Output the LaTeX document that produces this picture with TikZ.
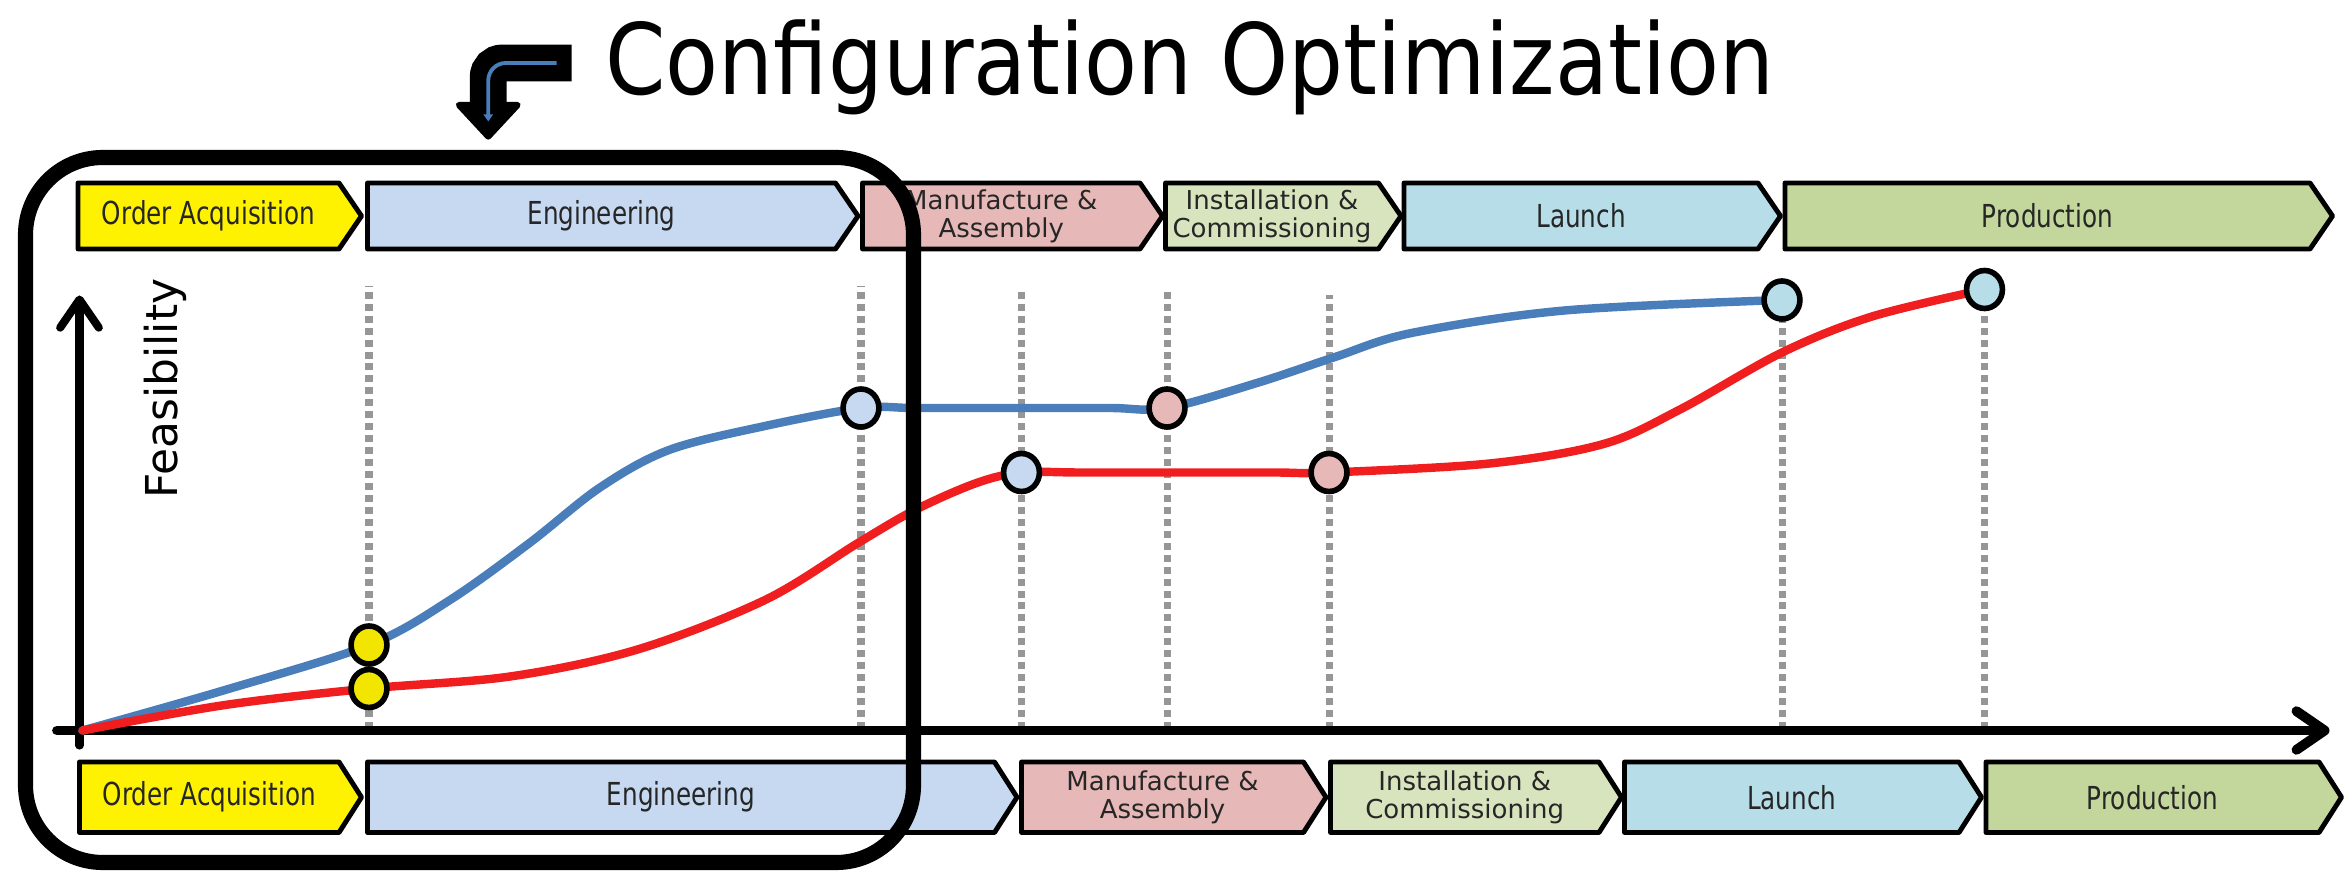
\documentclass[tikz,border=0pt]{standalone}
\usepackage{fontspec}
\newfontfamily\titlefont[FakeStretch=0.88]{DejaVu Sans}
\newfontfamily\phasefont[FakeStretch=0.78]{DejaVu Sans}
\newfontfamily\axisfont{DejaVu Sans}
\usepackage{tikz}
\usetikzlibrary{arrows.meta,shapes.geometric}

\definecolor{oacq}{RGB}{255,242,0}
\definecolor{engi}{RGB}{198,217,241}
\definecolor{manu}{RGB}{230,185,184}
\definecolor{inst}{RGB}{215,228,189}
\definecolor{laun}{RGB}{183,222,232}
\definecolor{prod}{RGB}{195,214,155}
\definecolor{curveblue}{RGB}{74,126,187}
\definecolor{curvered}{RGB}{240,30,30}
\definecolor{markyellow}{RGB}{242,230,0}
\definecolor{gridgray}{RGB}{150,150,150}

\tikzset{
  phase/.style={draw=black, line width=1.4pt, line join=round},
  phasetext/.style={font=\phasefont\fontsize{9}{9}\selectfont, text=black!85, inner sep=0pt},
  phasetwo/.style={font=\axisfont\fontsize{7.4}{8}\selectfont, align=center, text=black!85, inner sep=0pt},
  milestone/.style={gridgray, line width=2pt, dash pattern=on 2pt off 1.4pt},
  feas/.style={line width=2.4pt, line cap=round, line join=round},
  dot/.style={ellipse, draw=black, line width=1.6pt, minimum width=10.2pt, minimum height=10.8pt, inner sep=0pt},
  axisline/.style={line cap=round, -{Straight Barb[length=8pt,width=11pt,round]}},
}

\begin{document}
\begin{tikzpicture}[x=0.15mm,y=0.15mm]
      \useasboundingbox (0,0) rectangle (1568,585);

      % phase bars above the chart
      \foreach \a/\b/\c/\s/\t [count=\i] in {
          52/241/oacq/phasetext/Order Acquisition,
          245/572/engi/phasetext/Engineering,
          575/775/manu/phasetwo/Manufacture \&\\Assembly,
          777/934/inst/phasetwo/Installation \&\\Commissioning,
          936/1187/laun/phasetext/Launch,
          1190/1555/prod/phasetext/Production}{
        \draw[phase, fill=\c] (\a,463) -- (\b-15,463) -- (\b,441) -- (\b-15,419) -- (\a,419) -- cycle;
        \node[\s] (top\i) at ({(\a+\b-15)/2},441) {\t};
      }

      % phase bars below the chart
      \foreach \a/\b/\c/\s/\t [count=\i] in {
          53/241/oacq/phasetext/Order Acquisition,
          245/678/engi/phasetext/Engineering,
          681/884/manu/phasetwo/Manufacture \&\\Assembly,
          887/1081/inst/phasetwo/Installation \&\\Commissioning,
          1083/1321/laun/phasetext/Launch,
          1324/1561/prod/phasetext/Production}{
        \draw[phase, fill=\c] (\a,77) -- (\b-15,77) -- (\b,53.5) -- (\b-15,30) -- (\a,30) -- cycle;
        \node[\s] (bot\i) at ({(\a+\b-15)/2},53.5) {\t};
      }

      % milestones
      \foreach \x/\h in {246/394, 574/394, 681/393, 778/390, 886/388, 1188/385, 1323/392}
        \draw[milestone] (\x,99) -- (\x,\h);

      % axes
      \draw[axisline, line width=2.8pt] (38,98) -- (1553,98);
      \draw[axisline, line width=2.3pt] (53,88) -- (53,388);
      \node[rotate=90, font=\axisfont\fontsize{12.5}{14}\selectfont] (ylab) at (110,326) {Feasibility};

      % feasibility curves
      \draw[feas, curveblue] plot[smooth, tension=0.55] coordinates {
        (55,98) (150,125) (246,155) (300,185) (353,223) (400,260) (446,285) (510,301)
        (574,313) (610,313) (676,313) (740,313) (778,313) (839,330) (890,347) (941,363)
        (1043,378) (1188,385)};
      \draw[feas, curvered] plot[smooth, tension=0.55] coordinates {
        (55,98) (150,115) (246,126) (340,134) (425,152) (510,185) (572,223) (610,245)
        (651,263) (681,270) (720,270) (790,270) (850,270) (886,270) (993,276) (1069,289)
        (1120,312) (1188,350) (1248,374) (1323,392)};

      \node[dot, fill=markyellow] (b1) at (246,155) {};
      \node[dot, fill=engi] (b2) at (574,313) {};
      \node[dot, fill=manu] (b3) at (778,313) {};
      \node[dot, fill=laun] (b4) at (1188,385) {};
      \node[dot, fill=markyellow] (r1) at (246,126) {};
      \node[dot, fill=engi] (r2) at (681,270) {};
      \node[dot, fill=manu] (r3) at (886,270) {};
      \node[dot, fill=laun] (r4) at (1323,392) {};

      % configuration optimization frame
      \draw[line width=4.3pt, rounded corners=22pt] (17,10) rectangle (609,480);
      \node[anchor=base west, inner sep=0pt, font=\titlefont\fontsize{28}{30}\selectfont] (title) at (403,522) {Configuration Optimization};
      \draw[line width=10.5pt, rounded corners=4pt] (381,543) -| (325.5,512);
      \filldraw[line width=1.8pt, line join=round] (306,515) -- (345,515) -- (325.5,494) -- cycle;
      \draw[curveblue, line width=1.1pt, rounded corners=5pt, -{Triangle[length=2pt,width=2.6pt]}] (371,543) -| (325.5,504);
\end{tikzpicture}
\end{document}
